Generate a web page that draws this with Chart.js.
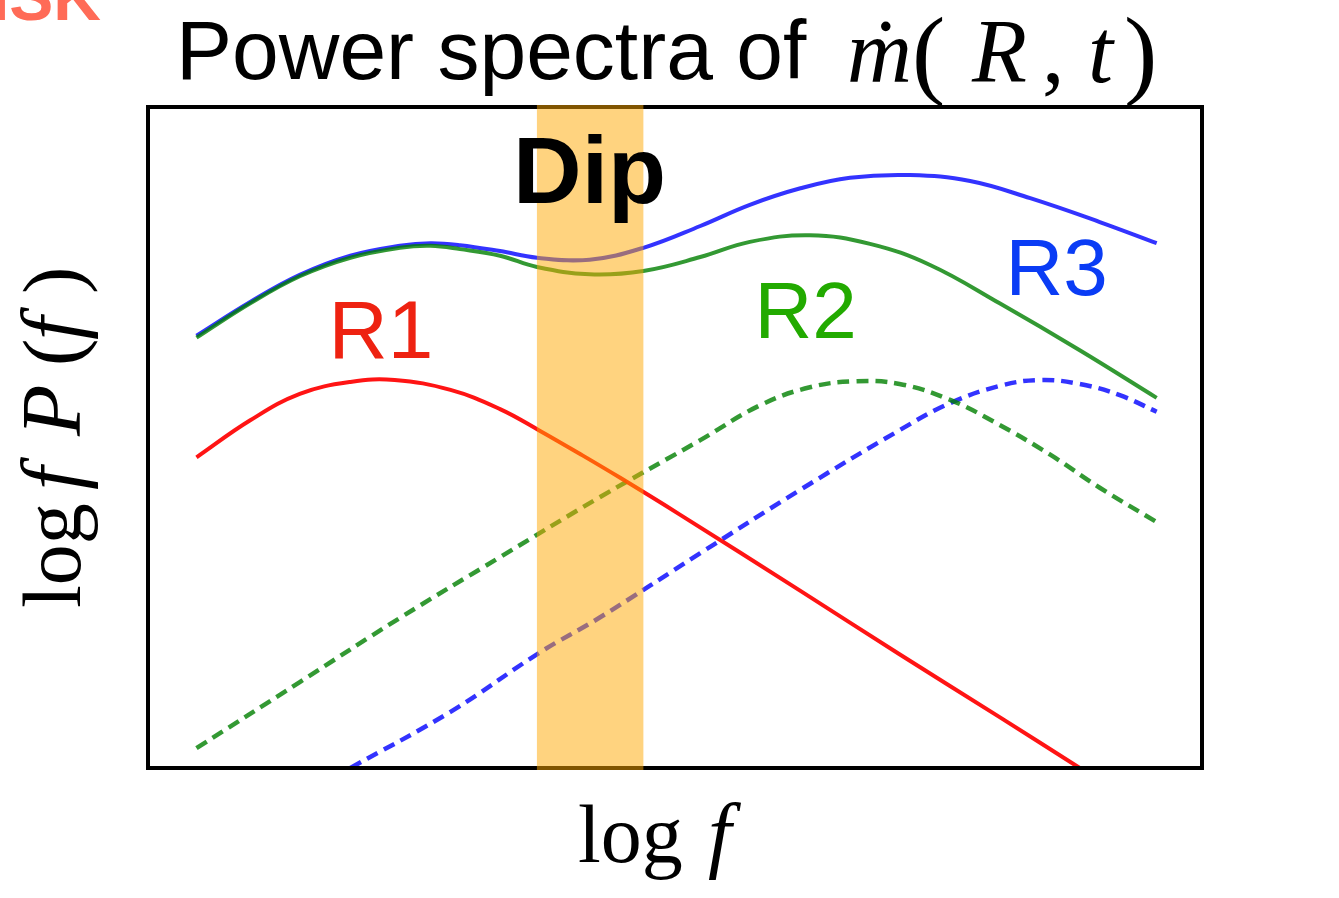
<!DOCTYPE html>
<html>
<head>
<meta charset="utf-8">
<script src="https://cdn.jsdelivr.net/npm/chart.js@4"></script>
<style>
  html, body { margin: 0; padding: 0; background: #fff; }
  #wrap { width: 1339px; height: 898px; position: relative; }
</style>
</head>
<body>
<div id="wrap"><canvas id="c"></canvas></div>
<script>
// curves (x = log f, y = log fP(f), arbitrary units 0..100)
const xR1 = [4.6, 9.7, 14.4, 19.2, 23.4, 28.7, 33.4, 37.2, 41.0, 44.8, 50.5, 61.9, 71.3, 80.8, 88.4];
const yR1 = [47.0, 52.6, 56.6, 58.4, 58.7, 57.2, 54.3, 51.0, 47.5, 43.9, 38.3, 26.8, 17.2, 7.7, 0];

const xR2 = [4.6, 9.7, 14.4, 19.2, 23.9, 26.8, 29.6, 33.4, 36.9, 41.9, 47.0, 52.4, 57.1, 62.8, 68.5, 74.2, 80.8, 88.4, 95.7];
const yR2 = [65.1, 70.3, 74.4, 77.2, 78.7, 79.0, 78.5, 77.5, 75.8, 74.7, 75.2, 77.3, 79.6, 80.6, 79.3, 76.1, 70.3, 63.2, 56.0];

const xR3 = [4.6, 9.7, 14.4, 19.2, 23.9, 26.8, 29.6, 33.4, 36.9, 41.9, 47.0, 52.4, 57.1, 61.9, 66.6, 72.3, 78.0, 83.7, 90.3, 95.7];
const yR3 = [65.4, 70.5, 74.6, 77.5, 79.0, 79.4, 79.1, 78.2, 77.2, 76.9, 78.7, 82.0, 85.2, 87.7, 89.3, 89.7, 88.8, 86.2, 82.6, 79.4];

const xR2dash = [4.6, 14.4, 23.9, 33.4, 42.9, 52.4, 58.1, 62.8, 67.1, 71.3, 76.1, 80.8, 85.6, 90.3, 95.7];
const yR2dash = [3.0, 13.0, 22.7, 31.9, 41.0, 49.6, 54.9, 57.6, 58.5, 58.1, 55.7, 51.9, 47.4, 42.4, 37.2];

const xR3dash = [19.2, 28.7, 37.2, 42.9, 52.4, 61.9, 71.3, 76.1, 80.8, 84.6, 88.4, 92.2, 95.7];
const yR3dash = [0, 8.5, 17.5, 22.8, 32.5, 42.1, 51.1, 55.2, 57.8, 58.7, 58.1, 56.4, 53.9];

// shaded "Dip" band
const dipBand = [36.9, 47.0];

// curve labels: text, x, y (baseline), colour
const curveLabels = [
  { text: 'R1', x: 22.1, y: 62.0, color: '#EE2211', font: '82px "Liberation Sans", Arial, sans-serif' },
  { text: 'R2', x: 62.4, y: 65.0, color: '#22AA00', font: '80px "Liberation Sans", Arial, sans-serif' },
  { text: 'R3', x: 86.2, y: 71.6, color: '#0A3CF5', font: '80px "Liberation Sans", Arial, sans-serif' },
  { text: 'Dip', x: 41.9, y: 85.5, color: '#000000', font: 'bold 95px "Liberation Sans", Arial, sans-serif' }
];

function pts(xs, ys){ return xs.map((x,i)=>({x:x, y:ys[i]})); }

const SERIF = '"Liberation Serif", "Times New Roman", serif';

const overlay = {
  id: 'overlay',
  afterDraw(chart){
    const ctx = chart.ctx, a = chart.chartArea;
    const xs = chart.scales.x, ys = chart.scales.y;
    ctx.save();
    // frame
    ctx.strokeStyle = '#000';
    ctx.lineWidth = 4;
    ctx.strokeRect(a.left, a.top, a.right - a.left, a.bottom - a.top);
    // band over the lines
    const b0 = xs.getPixelForValue(dipBand[0]), b1 = xs.getPixelForValue(dipBand[1]);
    ctx.fillStyle = 'rgba(255,168,0,0.5)';
    ctx.fillRect(b0, a.top - 2, b1 - b0, a.bottom - a.top + 4);
    // curve labels
    ctx.textAlign = 'center';
    ctx.textBaseline = 'alphabetic';
    for(const l of curveLabels){
      ctx.font = l.font; ctx.fillStyle = l.color;
      ctx.fillText(l.text, xs.getPixelForValue(l.x), ys.getPixelForValue(l.y));
    }
    // title
    ctx.textAlign = 'left';
    ctx.fillStyle = '#000';
    ctx.font = '84px "Liberation Sans", Arial, sans-serif';
    ctx.fillText('Power spectra of', 176, 79);
    ctx.font = 'italic 90px ' + SERIF;
    ctx.fillText('\u1E41', 847, 82);
    ctx.fillText('R', 972, 82);
    ctx.fillText('t', 1088, 82);
    ctx.font = '100px ' + SERIF;
    ctx.fillText('(', 912, 86);
    ctx.fillText(')', 1124, 86);
    ctx.font = '90px ' + SERIF;
    ctx.fillText(',', 1042, 82);
    // x label
    ctx.font = '82px ' + SERIF;
    ctx.fillText('log', 578, 862);
    ctx.font = 'italic 84px ' + SERIF;
    ctx.fillText('f', 708, 862);
    // y label, rotated
    ctx.save();
    ctx.translate(80, 608);
    ctx.rotate(-Math.PI/2);
    ctx.font = '82px ' + SERIF;
    ctx.fillText('log', 0, 0);
    ctx.fillText('(', 242, 0);
    ctx.fillText(')', 314, 0);
    ctx.font = 'italic 84px ' + SERIF;
    ctx.fillText('f', 118, 0);
    ctx.fillText('P', 172, 0);
    ctx.fillText('f', 268, 0);
    ctx.restore();
    // cut-off heading at top left
    ctx.font = 'bold 66px "Liberation Sans", Arial, sans-serif';
    ctx.fillStyle = '#FF6B57';
    ctx.textAlign = 'right';
    ctx.fillText('DISK', 101, 20);
    ctx.restore();
  }
};

const solid = { borderWidth: 4, pointRadius: 0, tension: 0.4, fill: false };
const dashed = Object.assign({}, solid, { borderWidth: 4.5, borderDash: [12, 7] });

new Chart(document.getElementById('c'), {
  type: 'line',
  data: {
    datasets: [
      Object.assign({ label: 'R1', data: pts(xR1, yR1), borderColor: 'rgba(255,0,0,0.92)' }, solid),
      Object.assign({ label: 'R2', data: pts(xR2, yR2), borderColor: 'rgba(0,128,0,0.8)' }, solid),
      Object.assign({ label: 'R3', data: pts(xR3, yR3), borderColor: 'rgba(0,0,255,0.8)' }, solid),
      Object.assign({ label: 'R2 local', data: pts(xR2dash, yR2dash), borderColor: 'rgba(0,128,0,0.8)' }, dashed),
      Object.assign({ label: 'R3 local', data: pts(xR3dash, yR3dash), borderColor: 'rgba(0,0,255,0.8)' }, dashed)
    ]
  },
  options: {
    responsive: true,
    maintainAspectRatio: false,
    animation: false,
    layout: { padding: { left: 148, top: 107, right: 137, bottom: 130 } },
    scales: {
      x: { type: 'linear', min: 0, max: 100, display: false },
      y: { type: 'linear', min: 0, max: 100, display: false }
    },
    plugins: { legend: { display: false }, tooltip: { enabled: false }, title: { display: false } }
  },
  plugins: [overlay]
});
</script>
</body>
</html>
